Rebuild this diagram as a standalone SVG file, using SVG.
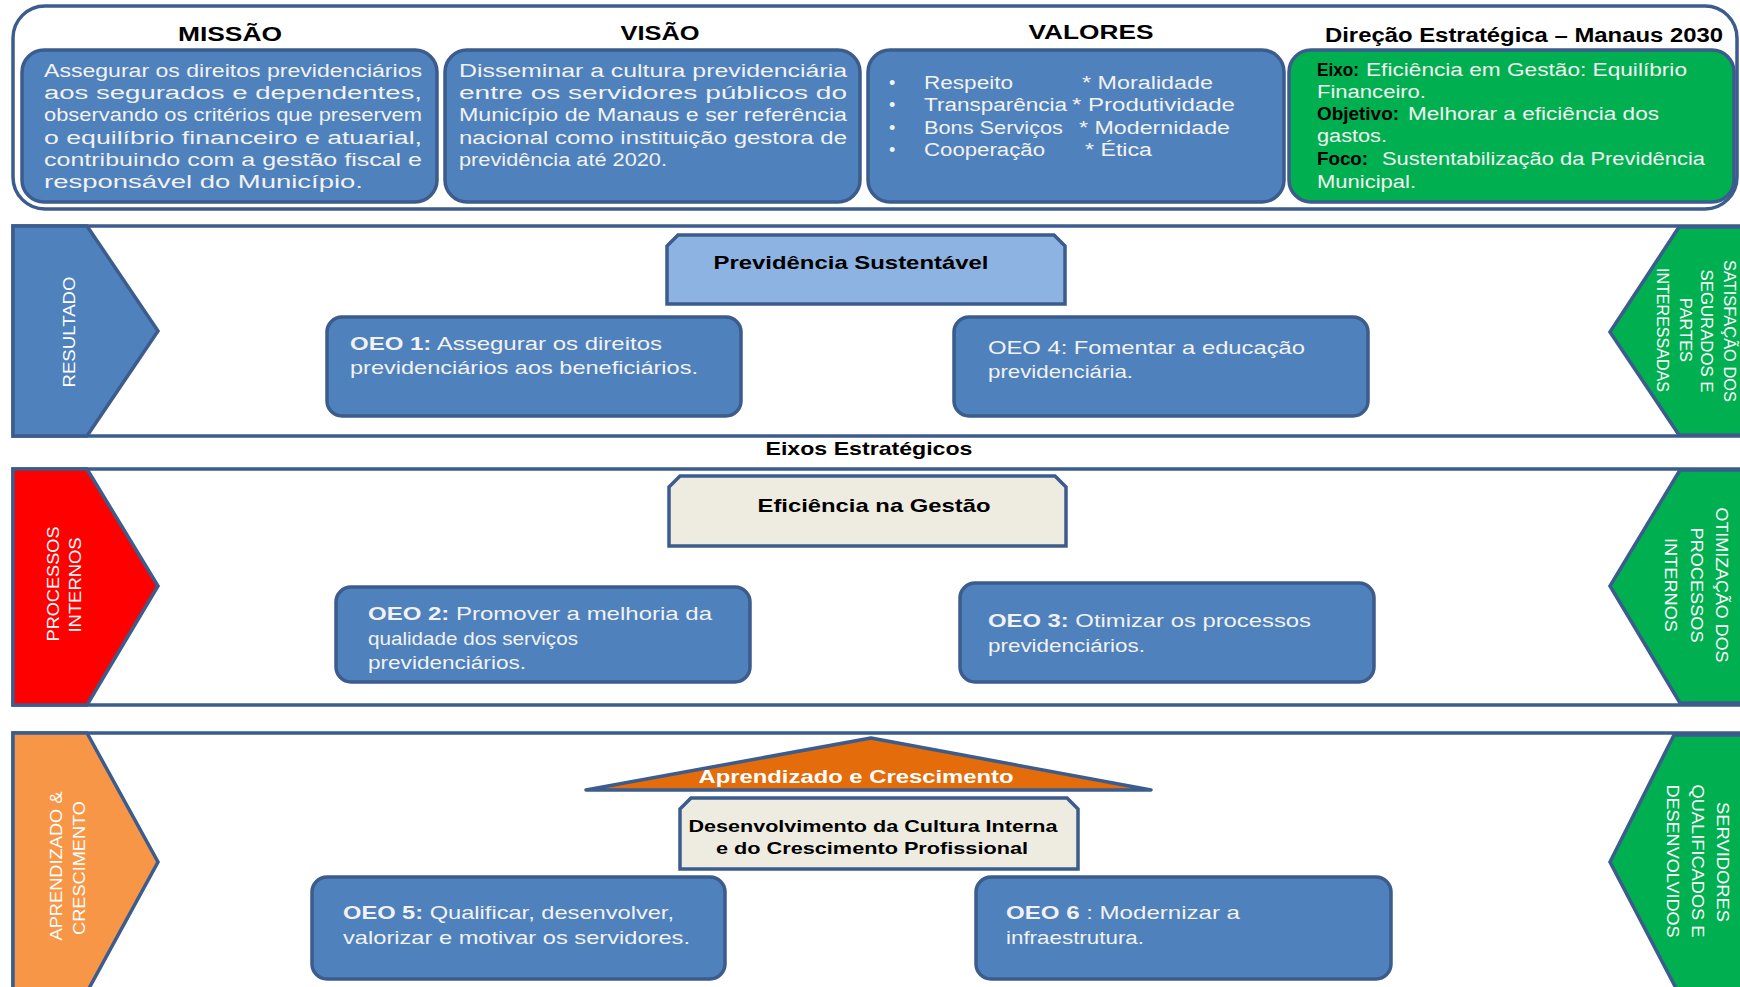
<svg xmlns="http://www.w3.org/2000/svg" width="1740" height="987" viewBox="0 0 1740 987">
<style>
.frame{fill:#fff;stroke:#3B5C8C;stroke-width:3.5}
.box{fill:#4F81BD;stroke:#3B5C8C;stroke-width:3.5}
.gbox{fill:#00B050;stroke:#3B5C8C;stroke-width:3.5}
.chev{stroke:#3B5C8C;stroke-width:3.5;stroke-linejoin:miter}
.n{font-family:"Liberation Sans Narrow","Liberation Sans",Arial,sans-serif}
.w{fill:#F2F2F2;font-size:18px}
.o{fill:#F2F2F2;font-size:19px}
.b{font-weight:bold}
.k{fill:#000}
.side{font-family:"Liberation Sans",Arial,sans-serif;fill:#fff;font-size:16px;text-anchor:middle}
.hd{font-family:"Liberation Sans",Arial,sans-serif;font-weight:bold;fill:#000}
.ttl{font-weight:bold;fill:#000;font-size:19px;text-anchor:middle}
</style>

<!-- Top section -->
<g id="top-frame">
<rect x="13" y="6" width="1724" height="203" rx="32" class="frame"/>
</g>

<g id="missao">
<text x="230" y="41" class="hd" font-size="21" text-anchor="middle" textLength="104" lengthAdjust="spacingAndGlyphs">MISSÃO</text>
<rect x="22" y="50" width="415" height="152" rx="22" class="box"/>
<g class="n w">
<text x="44" y="77" textLength="378" lengthAdjust="spacingAndGlyphs">Assegurar os direitos previdenciários</text>
<text x="44" y="99" textLength="378" lengthAdjust="spacingAndGlyphs">aos    segurados    e    dependentes,</text>
<text x="44" y="121" textLength="378" lengthAdjust="spacingAndGlyphs">observando os critérios que preservem</text>
<text x="44" y="144" textLength="378" lengthAdjust="spacingAndGlyphs">o  equilíbrio  financeiro  e  atuarial,</text>
<text x="44" y="166" textLength="378" lengthAdjust="spacingAndGlyphs">contribuindo  com  a  gestão  fiscal  e</text>
<text x="44" y="188" textLength="319" lengthAdjust="spacingAndGlyphs">responsável do Município.</text>
</g>
</g>

<g id="visao">
<text x="660" y="40" class="hd" font-size="21" text-anchor="middle" textLength="79" lengthAdjust="spacingAndGlyphs">VISÃO</text>
<rect x="445" y="50" width="415" height="152" rx="22" class="box"/>
<g class="n w">
<text x="459" y="77" textLength="388" lengthAdjust="spacingAndGlyphs">Disseminar   a   cultura   previdenciária</text>
<text x="459" y="99" textLength="388" lengthAdjust="spacingAndGlyphs">entre    os    servidores    públicos    do</text>
<text x="459" y="121" textLength="388" lengthAdjust="spacingAndGlyphs">Município de Manaus e ser referência</text>
<text x="459" y="144" textLength="388" lengthAdjust="spacingAndGlyphs">nacional como instituição gestora de</text>
<text x="459" y="166" textLength="208" lengthAdjust="spacingAndGlyphs">previdência até 2020.</text>
</g>
</g>

<g id="valores">
<text x="1091" y="39" class="hd" font-size="21" text-anchor="middle" textLength="125" lengthAdjust="spacingAndGlyphs">VALORES</text>
<rect x="868" y="50" width="416" height="152" rx="22" class="box"/>
<g class="n w">
<text x="889" y="89">•</text>
<text x="889" y="111">•</text>
<text x="889" y="134">•</text>
<text x="889" y="156">•</text>
<text x="924" y="89" textLength="89" lengthAdjust="spacingAndGlyphs">Respeito</text>
<text x="924" y="111" textLength="143" lengthAdjust="spacingAndGlyphs">Transparência</text>
<text x="924" y="134" textLength="139" lengthAdjust="spacingAndGlyphs">Bons Serviços</text>
<text x="924" y="156" textLength="121" lengthAdjust="spacingAndGlyphs">Cooperação</text>
<text x="1082" y="89" textLength="131" lengthAdjust="spacingAndGlyphs">*  Moralidade</text>
<text x="1072" y="111" textLength="163" lengthAdjust="spacingAndGlyphs">*  Produtividade</text>
<text x="1079" y="134" textLength="151" lengthAdjust="spacingAndGlyphs">*  Modernidade</text>
<text x="1085" y="156" textLength="67" lengthAdjust="spacingAndGlyphs">*  Ética</text>
</g>
</g>

<g id="direcao">
<text x="1325" y="42" class="hd" font-size="20" textLength="398" lengthAdjust="spacingAndGlyphs">Direção Estratégica  – Manaus 2030</text>
<rect x="1289" y="50" width="445" height="152" rx="22" class="gbox"/>
<g class="n w">
<text x="1317" y="76" class="b k" textLength="42" lengthAdjust="spacingAndGlyphs">Eixo:</text>
<text x="1366" y="76" textLength="321" lengthAdjust="spacingAndGlyphs">Eficiência em Gestão: Equilíbrio</text>
<text x="1317" y="98" textLength="109" lengthAdjust="spacingAndGlyphs">Financeiro.</text>
<text x="1317" y="120" class="b k" textLength="82" lengthAdjust="spacingAndGlyphs">Objetivo:</text>
<text x="1408" y="120" textLength="251" lengthAdjust="spacingAndGlyphs">Melhorar a eficiência dos</text>
<text x="1317" y="142" textLength="70" lengthAdjust="spacingAndGlyphs">gastos.</text>
<text x="1317" y="165" class="b k" textLength="51" lengthAdjust="spacingAndGlyphs">Foco:</text>
<text x="1382" y="165" textLength="323" lengthAdjust="spacingAndGlyphs">Sustentabilização da Previdência</text>
<text x="1317" y="188" textLength="99" lengthAdjust="spacingAndGlyphs">Municipal.</text>
</g>
</g>

<!-- Row 1: Resultado -->
<g id="row-resultado">
<rect x="13" y="226" width="1740" height="210" class="frame"/>
<polygon points="13,226 87,226 158,331 87,436 13,436" fill="#4F81BD" class="chev"/>
<text transform="translate(69,332) rotate(-90)" y="6" class="side" textLength="111" lengthAdjust="spacingAndGlyphs">RESULTADO</text>
<polygon points="1745,227 1679,227 1610,332 1679,435 1745,435" fill="#00B050" class="chev"/>
<g class="side" font-size="15">
<text transform="translate(1729,331) rotate(90)" y="5" textLength="142" lengthAdjust="spacingAndGlyphs">SATISFAÇÃO DOS</text>
<text transform="translate(1706,331) rotate(90)" y="5" textLength="123" lengthAdjust="spacingAndGlyphs">SEGURADOS E</text>
<text transform="translate(1685,330) rotate(90)" y="5" textLength="64" lengthAdjust="spacingAndGlyphs">PARTES</text>
<text transform="translate(1662,330) rotate(90)" y="5" textLength="124" lengthAdjust="spacingAndGlyphs">INTERESSADAS</text>
</g>
</g>

<g id="previdencia-sustentavel">
<path d="M667,246 L678,235 L1054,235 L1065,246 L1065,304 L667,304 Z" fill="#8DB3E2" stroke="#3B5C8C" stroke-width="3.5"/>
<text x="851" y="269" class="n ttl" textLength="275" lengthAdjust="spacingAndGlyphs">Previdência Sustentável</text>
</g>

<g id="oeo1">
<rect x="327" y="317" width="414" height="99" rx="15" class="box"/>
<text x="350" y="350" class="n o" textLength="312" lengthAdjust="spacingAndGlyphs"><tspan class="b">OEO 1:</tspan> Assegurar os direitos</text>
<text x="350" y="374" class="n o" textLength="348" lengthAdjust="spacingAndGlyphs">previdenciários  aos beneficiários.</text>
</g>

<g id="oeo4">
<rect x="954" y="317" width="414" height="99" rx="15" class="box"/>
<text x="988" y="354" class="n o" textLength="317" lengthAdjust="spacingAndGlyphs">OEO 4: Fomentar a educação</text>
<text x="988" y="378" class="n o" textLength="145" lengthAdjust="spacingAndGlyphs">previdenciária.</text>
</g>

<g id="eixos">
<text x="869" y="455" class="n ttl" textLength="207" lengthAdjust="spacingAndGlyphs">Eixos Estratégicos</text>
</g>

<!-- Row 2: Processos Internos -->
<g id="row-processos">
<rect x="13" y="469" width="1740" height="236" class="frame"/>
<polygon points="13,469 87,469 158,586 87,705 13,705" fill="#FF0000" class="chev"/>
<g class="side">
<text transform="translate(64,584) rotate(-90)" y="-5" textLength="115" lengthAdjust="spacingAndGlyphs">PROCESSOS</text>
<text transform="translate(64,585) rotate(-90)" y="17" textLength="95" lengthAdjust="spacingAndGlyphs">INTERNOS</text>
</g>
<polygon points="1745,470 1680,470 1610,586 1680,703 1745,703" fill="#00B050" class="chev"/>
<g class="side" font-size="15">
<text transform="translate(1721,585) rotate(90)" y="5" textLength="155" lengthAdjust="spacingAndGlyphs">OTIMIZAÇÃO  DOS</text>
<text transform="translate(1696,585) rotate(90)" y="5" textLength="115" lengthAdjust="spacingAndGlyphs">PROCESSOS</text>
<text transform="translate(1670,585) rotate(90)" y="5" textLength="94" lengthAdjust="spacingAndGlyphs">INTERNOS</text>
</g>
</g>

<g id="eficiencia-gestao">
<path d="M669,487 L680,476 L1055,476 L1066,487 L1066,546 L669,546 Z" fill="#EEECE1" stroke="#3B5C8C" stroke-width="3.5"/>
<text x="874" y="512" class="n ttl" textLength="233" lengthAdjust="spacingAndGlyphs">Eficiência na Gestão</text>
</g>

<g id="oeo2">
<rect x="336" y="587" width="414" height="95" rx="15" class="box"/>
<text x="368" y="620" class="n o" textLength="344" lengthAdjust="spacingAndGlyphs"><tspan class="b">OEO 2:</tspan> Promover  a melhoria da</text>
<text x="368" y="645" class="n o" textLength="210" lengthAdjust="spacingAndGlyphs">qualidade  dos serviços</text>
<text x="368" y="669" class="n o" textLength="158" lengthAdjust="spacingAndGlyphs">previdenciários.</text>
</g>

<g id="oeo3">
<rect x="960" y="583" width="414" height="99" rx="15" class="box"/>
<text x="988" y="627" class="n o" textLength="323" lengthAdjust="spacingAndGlyphs"><tspan class="b">OEO 3:</tspan> Otimizar os processos</text>
<text x="988" y="652" class="n o" textLength="157" lengthAdjust="spacingAndGlyphs">previdenciários.</text>
</g>

<!-- Row 3: Aprendizado -->
<g id="row-aprendizado">
<rect x="13" y="733" width="1740" height="270" class="frame"/>
<polygon points="13,733 87,733 158,862 87,992 13,992" fill="#F79646" class="chev"/>
<g class="side">
<text transform="translate(67,866) rotate(-90)" y="-5" textLength="149" lengthAdjust="spacingAndGlyphs">APRENDIZADO &amp;</text>
<text transform="translate(67,868) rotate(-90)" y="18" textLength="134" lengthAdjust="spacingAndGlyphs">CRESCIMENTO</text>
</g>
<polygon points="1745,735 1674,735 1610,862 1678,992 1745,992" fill="#00B050" class="chev"/>
<g class="side" font-size="15">
<text transform="translate(1722,862) rotate(90)" y="5" textLength="120" lengthAdjust="spacingAndGlyphs">SERVIDORES</text>
<text transform="translate(1697,861) rotate(90)" y="5" textLength="153" lengthAdjust="spacingAndGlyphs">QUALIFICADOS E</text>
<text transform="translate(1672,861) rotate(90)" y="5" textLength="153" lengthAdjust="spacingAndGlyphs">DESENVOLVIDOS</text>
</g>
</g>

<g id="aprendizado-crescimento">
<polygon points="586,790 871,738 1151,790" fill="#E46C0A" stroke="#3B5C8C" stroke-width="3.5" stroke-linejoin="round"/>
<text x="856" y="783" class="n ttl" fill="#fff" style="fill:#fff" textLength="315" lengthAdjust="spacingAndGlyphs">Aprendizado e Crescimento</text>
</g>

<g id="desenvolvimento">
<path d="M680,809 L691,798 L1067,798 L1078,809 L1078,869 L680,869 Z" fill="#EEECE1" stroke="#3B5C8C" stroke-width="3.5"/>
<text x="873" y="832" class="n ttl" font-size="17" style="font-size:17px" textLength="369" lengthAdjust="spacingAndGlyphs">Desenvolvimento da Cultura Interna</text>
<text x="872" y="854" class="n ttl" style="font-size:17px" textLength="312" lengthAdjust="spacingAndGlyphs">e do Crescimento Profissional</text>
</g>

<g id="oeo5">
<rect x="312" y="877" width="413" height="102" rx="15" class="box"/>
<text x="343" y="919" class="n o" textLength="331" lengthAdjust="spacingAndGlyphs"><tspan class="b">OEO 5:</tspan> Qualificar,  desenvolver,</text>
<text x="343" y="944" class="n o" textLength="347" lengthAdjust="spacingAndGlyphs">valorizar  e motivar  os servidores.</text>
</g>

<g id="oeo6">
<rect x="976" y="877" width="415" height="102" rx="15" class="box"/>
<text x="1006" y="919" class="n o" textLength="234" lengthAdjust="spacingAndGlyphs"><tspan class="b">OEO 6</tspan> : Modernizar  a</text>
<text x="1006" y="944" class="n o" textLength="138" lengthAdjust="spacingAndGlyphs">infraestrutura.</text>
</g>

<g id="connectors"></g>
</svg>
